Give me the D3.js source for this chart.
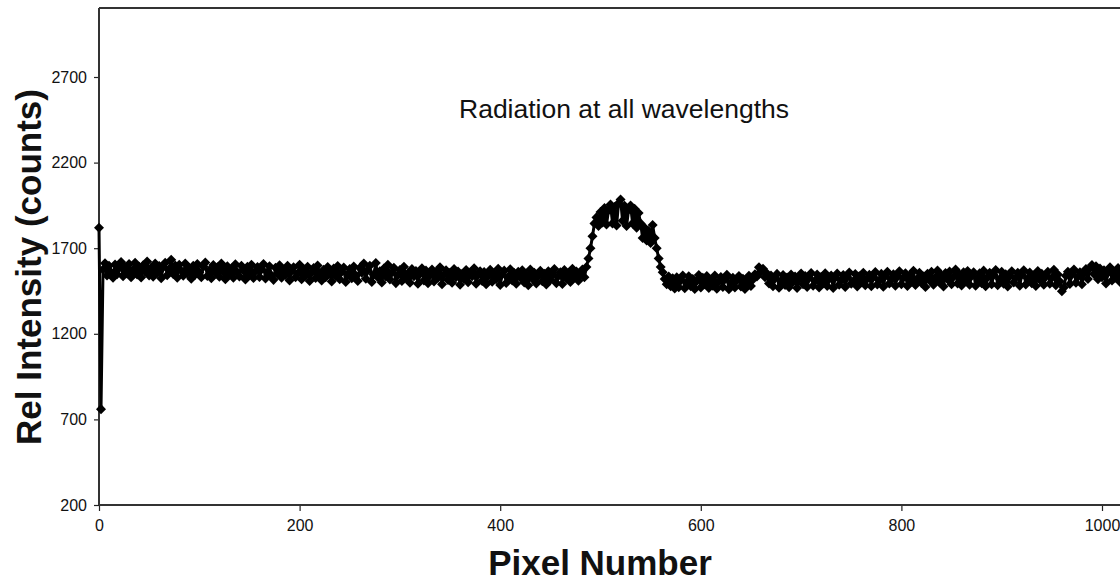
<!DOCTYPE html>
<html>
<head>
<meta charset="utf-8">
<script src="https://cdn.jsdelivr.net/npm/d3@7"></script>
<style>
  html, body { margin: 0; padding: 0; background: #fff; }
  svg { display: block; font-family: "Liberation Sans", Arial, Helvetica, sans-serif; }
  .tick text { font-size: 16px; }
</style>
</head>
<body>
<svg id="chart" width="1120" height="583"></svg>
<script>
// ---- data ----
const chartTitle = "Radiation at all wavelengths";
const xTitle = "Pixel Number";
const yTitle = "Rel Intensity (counts)";
const xTicks = [0, 200, 400, 600, 800, 1000];
const yTicks = [200, 700, 1200, 1700, 2200, 2700];
const pixelStep = 2; // one value every 2 pixel numbers, starting at pixel 0
const intensity = [
  1820, 760, 1575, 1612, 1541, 1598, 1560, 1527, 1605, 1548, 1583, 1619, 1536, 1590, 1552, 1607,
  1531, 1574, 1615, 1546, 1592, 1529, 1601, 1563, 1622, 1540, 1586, 1534, 1610, 1557, 1596, 1525,
  1589, 1615, 1542, 1578, 1633, 1550, 1599, 1528, 1604, 1568, 1539, 1611, 1553, 1585, 1521, 1597,
  1546, 1608, 1560, 1530, 1593, 1617, 1537, 1571, 1524, 1602, 1555, 1589, 1533, 1610, 1564, 1519,
  1595, 1548, 1581, 1527, 1606, 1559, 1535, 1598, 1570, 1517, 1592, 1544, 1603, 1526, 1566, 1590,
  1532, 1575, 1608, 1523, 1561, 1594, 1540, 1515, 1586, 1550, 1601, 1528, 1572, 1544, 1597, 1512,
  1567, 1589, 1530, 1552, 1604, 1519, 1578, 1541, 1592, 1508, 1560, 1585, 1526, 1599, 1548, 1511,
  1574, 1531, 1590, 1553, 1506, 1582, 1537, 1596, 1519, 1563, 1587, 1502, 1548, 1579, 1524, 1593,
  1540, 1508, 1585, 1556, 1610, 1522, 1571, 1598, 1503, 1547, 1613, 1530, 1566, 1499, 1581, 1535,
  1604, 1517, 1558, 1586, 1496, 1543, 1572, 1509, 1591, 1528, 1553, 1498, 1579, 1536, 1567, 1493,
  1550, 1583, 1512, 1569, 1495, 1541, 1576, 1505, 1560, 1527, 1588, 1490, 1545, 1571, 1514, 1556,
  1498, 1579, 1531, 1564, 1487, 1549, 1520, 1573, 1501, 1558, 1536, 1583, 1493, 1544, 1566, 1509,
  1561, 1489, 1538, 1574, 1504, 1552, 1518, 1580, 1485, 1547, 1569, 1497, 1533, 1577, 1511, 1555,
  1492, 1562, 1529, 1571, 1500, 1546, 1483, 1575, 1522, 1557, 1494, 1539, 1568, 1507, 1551, 1488,
  1566, 1515, 1543, 1578, 1496, 1537, 1560, 1491, 1572, 1524, 1553, 1502, 1580, 1531, 1564, 1510,
  1548, 1575, 1530, 1590, 1640, 1700, 1770, 1845, 1880, 1830, 1912, 1850, 1935, 1838, 1922, 1955,
  1845, 1940, 1832, 1962, 1985, 1860, 1948, 1830, 1925, 1950, 1845, 1930, 1820, 1905, 1845, 1760,
  1820, 1745, 1800, 1730, 1835, 1760, 1700, 1640, 1590, 1560, 1520, 1490, 1535, 1478, 1525, 1465,
  1530, 1472, 1512, 1541, 1466, 1503, 1536, 1478, 1520, 1462, 1509, 1544, 1470, 1527, 1490, 1538,
  1468, 1515, 1481, 1540, 1463, 1506, 1532, 1474, 1519, 1545, 1460, 1498, 1528, 1471, 1512, 1537,
  1476, 1521, 1462, 1508, 1539, 1479, 1517, 1548, 1535, 1588, 1562, 1580, 1530, 1552, 1494, 1540,
  1478, 1523, 1550, 1469, 1511, 1543, 1485, 1529, 1472, 1547, 1503, 1534, 1467, 1518, 1552, 1490,
  1537, 1474, 1526, 1555, 1481, 1510, 1546, 1470, 1532, 1496, 1553, 1479, 1520, 1541, 1468, 1528,
  1552, 1487, 1515, 1544, 1473, 1531, 1558, 1492, 1507, 1549, 1476, 1536, 1501, 1556, 1483, 1522,
  1545, 1478, 1530, 1561, 1488, 1513, 1550, 1475, 1538, 1563, 1494, 1519, 1548, 1481, 1534, 1566,
  1490, 1527, 1554, 1479, 1541, 1506, 1568, 1485, 1522, 1557, 1497, 1535, 1474, 1551, 1513, 1562,
  1486, 1529, 1570, 1499, 1540, 1477, 1555, 1518, 1564, 1489, 1533, 1575, 1494, 1546, 1482, 1559,
  1511, 1567, 1487, 1538, 1560, 1480, 1524, 1553, 1496, 1569, 1478, 1531, 1557, 1490, 1543, 1572,
  1484, 1520, 1562, 1493, 1548, 1476, 1536, 1565, 1499, 1527, 1556, 1481, 1545, 1571, 1488, 1523,
  1558, 1495, 1541, 1479, 1567, 1516, 1550, 1486, 1534, 1563, 1492, 1528, 1574, 1483, 1547, 1505,
  1448, 1470, 1539, 1562, 1491, 1546, 1576, 1498, 1533, 1560, 1489, 1551, 1578, 1520, 1585, 1602,
  1550, 1595, 1518, 1582, 1530, 1571, 1494, 1556, 1589, 1512, 1563, 1527, 1584, 1503, 1568, 1540
];

// ---- drawing ----
const svg = d3.select("#chart");
const W = 1120, H = 583;
const plot = { left: 99, top: 8, bottom: 505 };

const x = d3.scaleLinear().domain([0, 1000]).range([99, 1102]);
const y = d3.scaleLinear().domain([200, 2700]).range([505, 77]);

const points = intensity.map((v, i) => ({ px: i * pixelStep, v }));

// axes
const yAxis = d3.axisLeft(y).tickValues(yTicks).tickFormat(d3.format("d")).tickSize(5).tickPadding(7);
const xAxis = d3.axisBottom(x).tickValues(xTicks).tickFormat(d3.format("d")).tickSize(6).tickPadding(9);

const gy = svg.append("g").attr("transform", `translate(${plot.left},0)`).call(yAxis);
const gx = svg.append("g").attr("transform", `translate(0,${plot.bottom})`).call(xAxis);
[gx, gy].forEach(g => {
  g.attr("font-size", 16).attr("font-family", '"Liberation Sans", Arial, sans-serif');
  g.select(".domain").remove();
  g.selectAll("line").attr("stroke", "#222").attr("stroke-width", 1.2);
  g.selectAll("text").attr("fill", "#111").attr("font-size", 16);
});

// frame lines: left, bottom, top
const frame = svg.append("g").attr("stroke", "#333").attr("stroke-width", 2).attr("fill", "none");
frame.append("line").attr("x1", plot.left).attr("x2", plot.left).attr("y1", plot.top).attr("y2", plot.bottom);
frame.append("line").attr("x1", plot.left).attr("x2", W).attr("y1", plot.bottom).attr("y2", plot.bottom);
frame.append("line").attr("x1", plot.left).attr("x2", W).attr("y1", plot.top).attr("y2", plot.top);

// series line
const line = d3.line().x(d => x(d.px)).y(d => y(d.v));
svg.append("path").datum(points)
  .attr("d", line).attr("fill", "none").attr("stroke", "#000").attr("stroke-width", 3)
  .attr("stroke-linejoin", "round");

// diamond markers
const sym = d3.symbol().type(d3.symbolDiamond2).size(64);
svg.append("g").selectAll("path").data(points).join("path")
  .attr("transform", d => `translate(${x(d.px)},${y(d.v)})`)
  .attr("d", sym).attr("fill", "#000");

// titles
svg.append("text").attr("x", 624).attr("y", 118).attr("text-anchor", "middle")
  .style("font-size", "26.5px").attr("fill", "#111").text(chartTitle);

svg.append("text").attr("x", 600).attr("y", 575).attr("text-anchor", "middle")
  .style("font-size", "35px").style("font-weight", "bold").attr("fill", "#111").text(xTitle);

svg.append("text").attr("transform", "translate(41,267) rotate(-90)").attr("text-anchor", "middle")
  .style("font-size", "35px").style("font-weight", "bold").attr("fill", "#111").text(yTitle);
</script>
</body>
</html>
